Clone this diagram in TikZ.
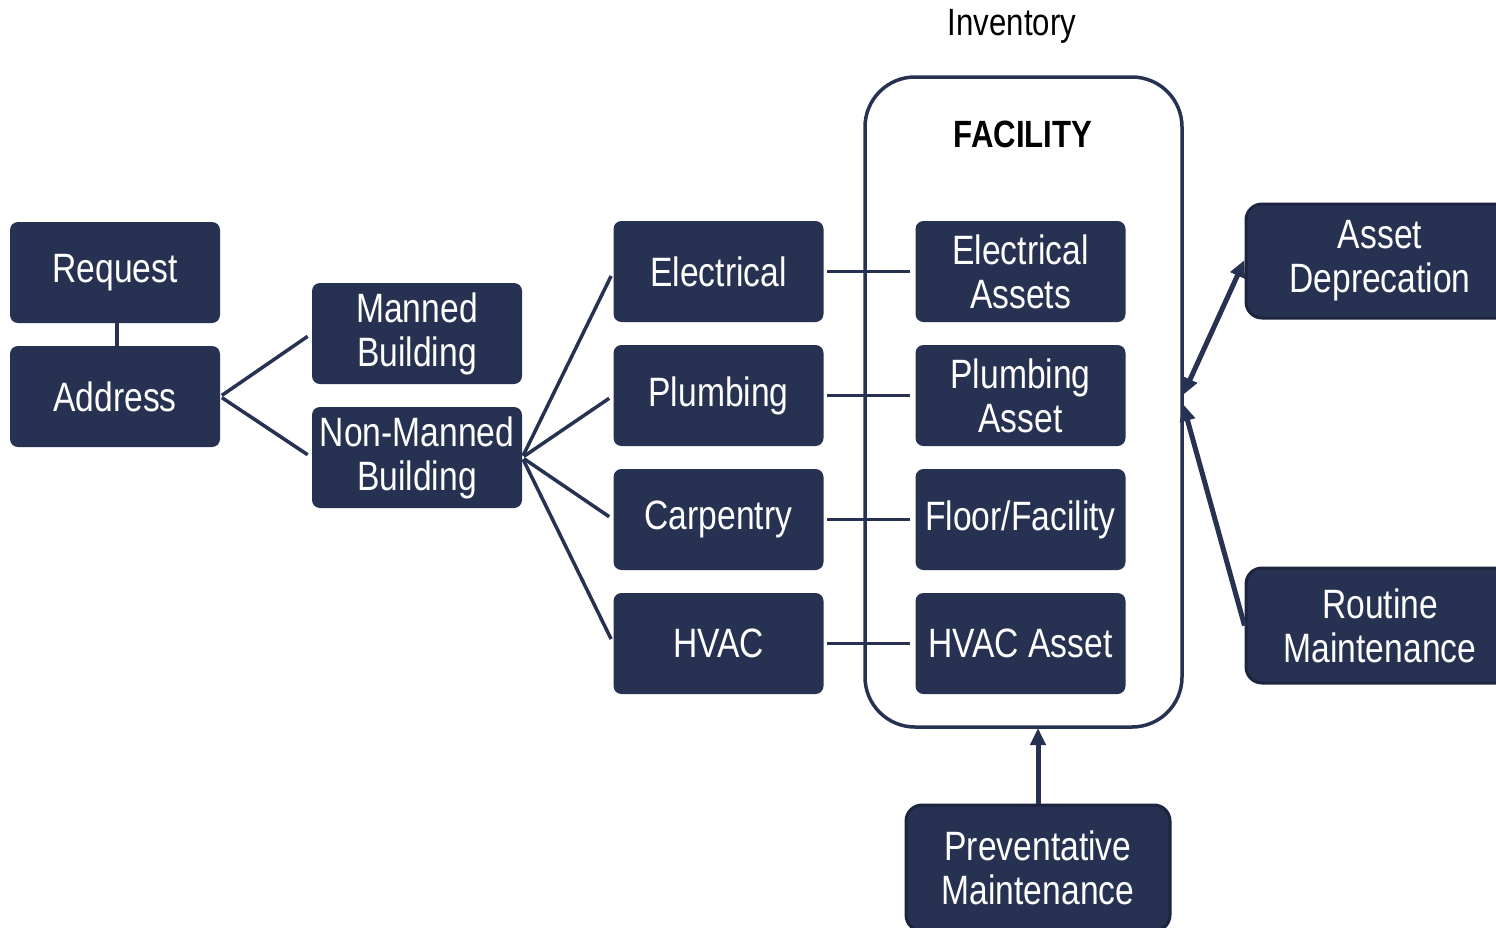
\documentclass[tikz,border=0pt]{standalone}
\usepackage{fontspec}
\setmainfont[FakeStretch=0.82]{Liberation Sans}
\usetikzlibrary{arrows.meta}
\definecolor{navy}{RGB}{39,49,82}
\definecolor{navyedge}{RGB}{28,36,62}
\begin{document}
\begin{tikzpicture}[x=1pt,y=-1pt,
  box/.style={fill=navy, draw=none, rounded corners=8pt, minimum width=210pt, minimum height=101pt,
    text=white, align=center, font=\fontsize{41}{44}\selectfont, inner sep=0pt},
  sidebox/.style={box, draw=navyedge, line width=3pt, rounded corners=16pt},
  link/.style={draw=navy, line width=3.5pt},
  arr/.style={draw=navy, line width=5pt, -{Triangle[length=17pt,width=15pt]}},
  biarr/.style={draw=navy, line width=5pt, {Triangle[length=17pt,width=15pt]}-{Triangle[length=17pt,width=15pt]}}]
\useasboundingbox (0,0) rectangle (1496,927);

% facility container
\node[draw=navy, line width=3.5pt, rounded corners=50pt, minimum width=317pt, minimum height=650pt, inner sep=0pt] (fac) at (1023.5,402) {};
\node[font=\fontsize{38}{40}\selectfont] (inv) at (1012,26) {Inventory};
\node[font=\bfseries\fontsize{38}{40}\selectfont] (factitle) at (1023,134) {FACILITY};

% left boxes
\node[box] (req) at (115,272.5) {Request};
\node[box] (addr) at (115,396.5) {Address};
\node[box] (man) at (417,333.5) {Manned\\Building};
\node[box] (nonman) at (417,457.5) {Non-Manned\\Building};

\node[box] (ele) at (718.5,271.5) {Electrical};
\node[box] (plu) at (718.5,395.5) {Plumbing};
\node[box] (car) at (718.5,519.5) {Carpentry};
\node[box] (hva) at (718.5,643.5) {HVAC};

\node[box] (elea) at (1020.5,271.5) {Electrical\\Assets};
\node[box] (plua) at (1020.5,395.5) {Plumbing\\Asset};
\node[box] (flo) at (1020.5,519.5) {Floor/Facility};
\node[box] (hvaa) at (1020.5,643.5) {HVAC Asset};

% side boxes
\node[sidebox, minimum width=268pt, minimum height=114pt] (ad) at (1380,261) {Asset\\Deprecation};
\node[sidebox, minimum width=268pt, minimum height=115pt] (rm) at (1380,625.5) {Routine\\Maintenance};
\node[sidebox, minimum width=264pt, minimum height=126pt] (pm) at (1038,868) {Preventative\\Maintenance};

% connectors
\draw[link, line width=4pt] ([xshift=2pt]req.south) -- ([xshift=2pt]addr.north);
\draw[link, shorten <=2pt, shorten >=5pt] (addr.east) -- (man.west);
\draw[link, shorten <=2pt, shorten >=5pt] (addr.east) -- (nonman.west);
\foreach \t in {ele,plu,car,hva}
  \draw[link, shorten <=2pt, shorten >=5pt] (nonman.east) -- (\t.west);
\draw[link, shorten <=3pt, shorten >=5pt] (ele.east) -- (elea.west);
\draw[link, shorten <=3pt, shorten >=5pt] (plu.east) -- (plua.west);
\draw[link, shorten <=3pt, shorten >=5pt] (car.east) -- (flo.west);
\draw[link, shorten <=3pt, shorten >=5pt] (hva.east) -- (hvaa.west);

\coordinate (tipA) at (1183,395);
\coordinate (tipB) at (1183,404);
\coordinate (tipC) at (1038,728);
\draw[biarr] ([yshift=1pt]ad.west) -- (tipA);
\draw[arr] (rm.west) -- (tipB);
\draw[arr] (pm.north) -- (tipC);
\end{tikzpicture}
\end{document}
